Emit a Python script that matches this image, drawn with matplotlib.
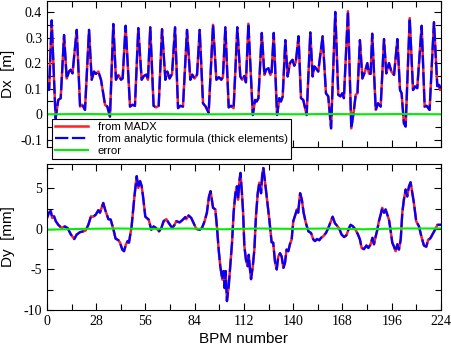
import matplotlib
matplotlib.use("Agg")
import matplotlib.pyplot as plt
from matplotlib.ticker import FixedLocator, MultipleLocator

plt.rcParams['axes.unicode_minus'] = False

# horizontal dispersion (BPM index, Dx in m)
dx_bpm = [0, 1.2, 2.65, 4.9, 6.4, 7.8, 9.7, 11.2, 12.5, 13.5, 14.5, 16.9, 18.8, 20.1, 21.6,
          23.9, 25.4, 26.7, 27.8, 29.2, 30.7, 33.0, 34.3, 35.8, 37.7, 39.2, 40.6, 42.1, 43.0,
          44.7, 47.2, 48.5, 50.0, 51.9, 53.8, 55.1, 56.5, 57.4, 58.7, 60.6, 62.0, 63.5, 65.4,
          67.3, 68.4, 69.7, 71.1, 72.8, 74.5, 75.8, 77.3, 79.6, 81.5, 82.6, 83.9, 85.3, 86.8,
          88.7, 90.2, 91.9, 94.4, 96.3, 97.8, 99.1, 100.0, 101.4, 103.3, 104.6, 106.1, 108.2,
          109.9, 111.0, 112.2, 113.1, 114.5, 117.0, 118.3, 119.2, 120.2, 122.1, 123.6, 124.5,
          125.9, 127.0, 127.7, 128.9, 130.8, 132.1, 133.0, 134.0, 135.5, 136.8, 138.1, 139.6,
          140.6, 141.5, 143.0, 144.4, 145.7, 147.6, 149.7, 151.0, 152.0, 152.9, 154.2, 156.7,
          158.6, 159.9, 161.5, 163.9, 165.6, 166.8, 167.9, 168.8, 171.1, 173.0, 174.5, 175.5,
          176.5, 177.9, 179.3, 180.8, 182.1, 183.0, 184.0, 184.9, 186.9, 188.2, 189.7, 191.6,
          192.9, 194.4, 195.8, 197.3, 199.2, 200.7, 201.6, 202.9, 203.9, 206.2, 208.1, 209.2,
          210.5, 213.0, 214.7, 215.8, 217.5, 220.0, 221.9, 222.8, 223.5, 224]
dx_madx = [0.115, 0.095, 0.367, -0.016, 0.056, 0.063, 0.31, 0.14, 0.167, 0.174, 0.16, 0.33, 0.03, 0.037, 0.017,
           0.33, 0.135, 0.167, 0.158, 0.167, 0.135, 0.037, 0.03, -0.009, 0.353, 0.135, 0.154, 0.135, 0.14,
           0.346, 0.03, 0.037, 0.033, 0.337, 0.135, 0.15, 0.155, 0.135, 0.34, 0.033, 0.027, 0.033, 0.333,
           0.135, 0.167, 0.14, 0.158, 0.34, 0.024, 0.033, 0.03, 0.33, 0.135, 0.155, 0.14, 0.155, 0.33,
           0.043, 0.03, 0.006, 0.35, 0.135, 0.145, 0.135, 0.145, 0.34, 0.027, 0.033, 0.024, 0.34,
           0.148, 0.135, 0.15, 0.125, 0.354, -0.003, 0.056, 0.05, 0.063, 0.318, 0.154, 0.174,
           0.18, 0.154, 0.165, 0.318, -0.003, 0.063, 0.05, 0.07, 0.29, 0.148, 0.2, 0.213,
           0.19, 0.206, 0.305, 0.063, 0.056, -0.003, 0.32, 0.148, 0.187, 0.18, 0.167, 0.305,
           0.082, 0.07, -0.055, 0.4, 0.076, 0.07, 0.082, 0.063, 0.403, -0.055, 0.017, 0.076,
           0.082, 0.29, 0.14, 0.167, 0.2, 0.16, 0.158, 0.315, 0.017, 0.043, 0.03, 0.294,
           0.16, 0.2, 0.167, 0.154, 0.294, 0.095, 0.082, -0.035, -0.048, 0.376, 0.095, 0.109,
           0.102, 0.346, 0.03, 0.033, 0.017, 0.36, 0.11, 0.115, 0.095, 0.11]
dx_analytic = dx_madx  # the two curves coincide at this resolution

# vertical dispersion (BPM index, Dy in mm)
dy_bpm = [0, 1.1, 2.1, 3.0, 4.0, 5.0, 6.4, 8.3, 10.2, 11.7, 13.6, 15.5, 16.9, 18.8, 20.7, 22.0,
          23.5, 25.0, 26.3, 27.7, 29.2, 30.1, 32.0, 33.0, 34.0, 34.9, 36.2, 37.7, 39.0, 40.6,
          41.5, 42.8, 43.8, 44.9, 45.9, 46.6, 48.1, 49.7, 51.0, 51.9, 52.9, 53.8, 54.6, 55.9,
          57.8, 59.3, 60.6, 62.1, 63.7, 65.0, 66.3, 67.8, 69.3, 71.2, 72.5, 73.5, 75.4, 77.3,
          78.6, 79.2, 80.5, 82.0, 83.4, 84.9, 86.8, 88.1, 89.6, 90.9, 92.1, 93.0, 94.4, 95.7,
          96.6, 97.6, 98.5, 99.7, 100.4, 101.0, 101.6, 102.3, 103.3, 104.2, 105.2, 106.1, 107.1,
          108.0, 108.6, 109.5, 110.0, 110.8, 111.5, 112.2, 113.1, 114.1, 114.7, 115.4, 116.0,
          117.0, 117.9, 118.8, 119.8, 120.7, 121.7, 122.3, 123.0, 124.0, 125.1, 126.4, 127.7,
          128.6, 129.6, 130.6, 131.5, 132.5, 133.4, 134.4, 135.3, 136.2, 137.2, 138.1, 139.1,
          140.0, 141.2, 142.1, 142.8, 143.9, 144.9, 145.9, 147.2, 148.6, 150.1, 151.4, 152.4,
          153.5, 154.8, 155.8, 157.1, 158.6, 159.9, 161.4, 162.4, 163.7, 165.2, 166.0, 167.5,
          168.9, 170.2, 171.7, 172.6, 174.0, 175.4, 176.8, 177.9, 178.9, 180.2, 181.6, 182.7,
          184.0, 185.0, 185.9, 186.9, 187.8, 188.7, 189.7, 190.6, 191.6, 192.5, 193.5, 194.4,
          195.3, 196.3, 197.2, 198.2, 199.2, 200.1, 201.1, 202.0, 202.9, 203.9, 204.8, 205.8,
          206.7, 207.7, 208.6, 209.9, 211.5, 212.8, 214.3, 215.6, 216.8, 217.5, 218.1, 220.6,
          222.0, 224.0]
dy_madx = [1.35, 2.0, 2.2, 1.35, 1.55, 0.95, 0.5, 0.12, 0.3, 0.1, -0.7, -1.25, -0.7, -0.4, -0.3, -0.2,
           0.5, 1.55, 1.5, 1.75, 2.3, 2.0, 3.2, 2.4, 1.75, 1.2, 1.15, 0.0, -1.2, -1.4,
           -1.7, -2.55, -2.75, -1.9, -1.5, -1.7, 0.3, 4.0, 6.5, 5.05, 5.9, 5.3, 4.0, 1.5,
           1.15, -0.1, 0.3, 0.1, -0.3, 0.1, 0.95, 1.2, 0.7, 0.1, 0.5, 0.95, 0.8, 1.15,
           1.45, 1.2, 1.65, 1.35, 0.7, 0.0, -0.1, 0.1, 0.95, 2.0, 4.0, 4.65, 2.6, 2.4,
           0.3, -2.55, -4.6, -6.25, -5.2, -7.3, -5.2, -8.9, -7.1, -4.6, -1.7, 2.0, 4.4,
           5.25, 3.6, 6.1, 6.9, 4.5, 2.0, -2.1, -3.8, -4.6, -3.2, -5.0, -6.2,
           -4.6, -2.55, 1.55, 4.4, 5.7, 4.4, 6.5, 7.5, 5.7, 3.6, 1.15, -1.65,
           -1.7, -4.0, -5.0, -3.4, -3.0, -3.4, -4.8, -4.2, -2.55, -2.75, -1.9, -1.3,
           0.95, 1.75, 2.4, 2.0, 4.4, 3.6, 2.0, 0.7, -0.3, -0.5, -1.3, -1.5,
           -1.25, -1.4, -1.1, -0.9, -0.5, 0.1, 0.95, 1.5, 0.7, 0.3, 0.1, -0.7,
           -1.0, -0.8, 0.1, 0.5, 0.3, -0.1, -0.7, -1.3, -2.35, -2.5, -2.05, -2.35,
           -1.9, -1.1, -1.9, -0.9, -0.1, 0.95, 1.75, 2.6, 2.0, 2.4, 1.75, 1.15,
           -0.1, -1.7, -2.15, -2.75, -1.9, -2.55, -1.3, 2.0, 3.6, 4.85, 4.0, 5.25,
           5.75, 4.4, 3.2, 0.95, 0.3, -0.9, -2.05, -2.2, -1.3, -1.25, -1.1, -0.1,
           0.5, 0.5]
dy_analytic = dy_madx

# error curves (difference, practically zero)
err_bpm = [0, 20, 40, 60, 80, 100, 120, 140, 160, 180, 200, 224]
dx_err = [0.0, 0.001, 0.0, 0.001, 0.0, 0.0, 0.001, 0.0, 0.001, 0.0, 0.001, 0.0]
dy_err = [-0.1, 0.0, 0.05, 0.0, 0.05, -0.05, 0.05, 0.0, 0.05, -0.05, 0.05, 0.05]

dx_ticks = [-0.1, 0, 0.1, 0.2, 0.3, 0.4]
dx_ticklabels = ["-0.1", "0", "0.1", "0.2", "0.3", "0.4"]
dy_ticks = [-10, -5, 0, 5]
dy_ticklabels = ["-10", "-5", "0", "5"]
x_ticks = [0, 28, 56, 84, 112, 140, 168, 196, 224]

W, H = 452, 347
fig = plt.figure(figsize=(W / 100, H / 100), dpi=100)
ax1 = fig.add_axes([47 / W, 1 - 147 / H, 394 / W, 146 / H])
ax2 = fig.add_axes([47 / W, 1 - 310 / H, 394 / W, 146 / H])

tick_font = {'family': 'Liberation Serif', 'size': 10}
label_font = {'family': 'Liberation Sans', 'size': 11}

red = '#ff2020'
blue = '#0000ff'
green = '#00ee00'
dash = (0, (6, 1.6))

l1, = ax1.plot(dx_bpm, dx_madx, color=red, lw=1.8, label="from MADX")
l2, = ax1.plot(dx_bpm, dx_analytic, color=blue, lw=1.6, linestyle=dash,
               label="from analytic formula (thick elements)")
l3, = ax1.plot(err_bpm, dx_err, color=green, lw=1.5, label="error")

ax2.plot(dy_bpm, dy_madx, color=red, lw=1.8)
ax2.plot(dy_bpm, dy_analytic, color=blue, lw=1.6, linestyle=dash)
ax2.plot(err_bpm, dy_err, color=green, lw=1.5)

ax1.set_ylim(-0.128, 0.443)
ax2.set_ylim(-10, 8)
for ax in (ax1, ax2):
    ax.set_xlim(0, 224)
    ax.xaxis.set_major_locator(FixedLocator(x_ticks))
    ax.xaxis.set_minor_locator(MultipleLocator(14))
    ax.tick_params(which='both', direction='in', top=True, right=True, width=0.8)
    ax.tick_params(which='major', length=5)
    ax.tick_params(which='minor', length=4)
    for s in ax.spines.values():
        s.set_linewidth(0.8)

ax1.set_yticks(dx_ticks)
ax1.set_yticklabels(dx_ticklabels, fontdict=tick_font)
ax1.yaxis.set_minor_locator(MultipleLocator(0.05))
ax1.set_xticklabels([])

ax2.set_yticks(dy_ticks)
ax2.set_yticklabels(dy_ticklabels, fontdict=tick_font)
ax2.yaxis.set_minor_locator(MultipleLocator(2.5))
ax2.set_xticklabels([str(t) for t in x_ticks], fontdict=tick_font)

ax1.set_ylabel("Dx  [m]", fontdict=label_font)
ax2.set_ylabel("Dy  [mm]", fontdict=label_font)
# label anchor is the right side of the rotated text
ax1.yaxis.set_label_coords(-0.082, 0.5)
ax2.yaxis.set_label_coords(-0.082, 0.5)
ax2.set_xlabel("BPM number", fontdict=label_font, labelpad=3)

leg = fig.legend(handles=[l1, l2, l3], loc='upper left',
                 bbox_to_anchor=(52 / W, 1 - 119 / H), borderaxespad=0,
                 prop={'family': 'Liberation Sans', 'size': 8.2},
                 fancybox=False, framealpha=1, edgecolor='black',
                 handlelength=2.9, handletextpad=0.8, labelspacing=0.15,
                 borderpad=0.3)
leg.get_frame().set_linewidth(0.8)

fig.savefig("out.png", dpi=100)
